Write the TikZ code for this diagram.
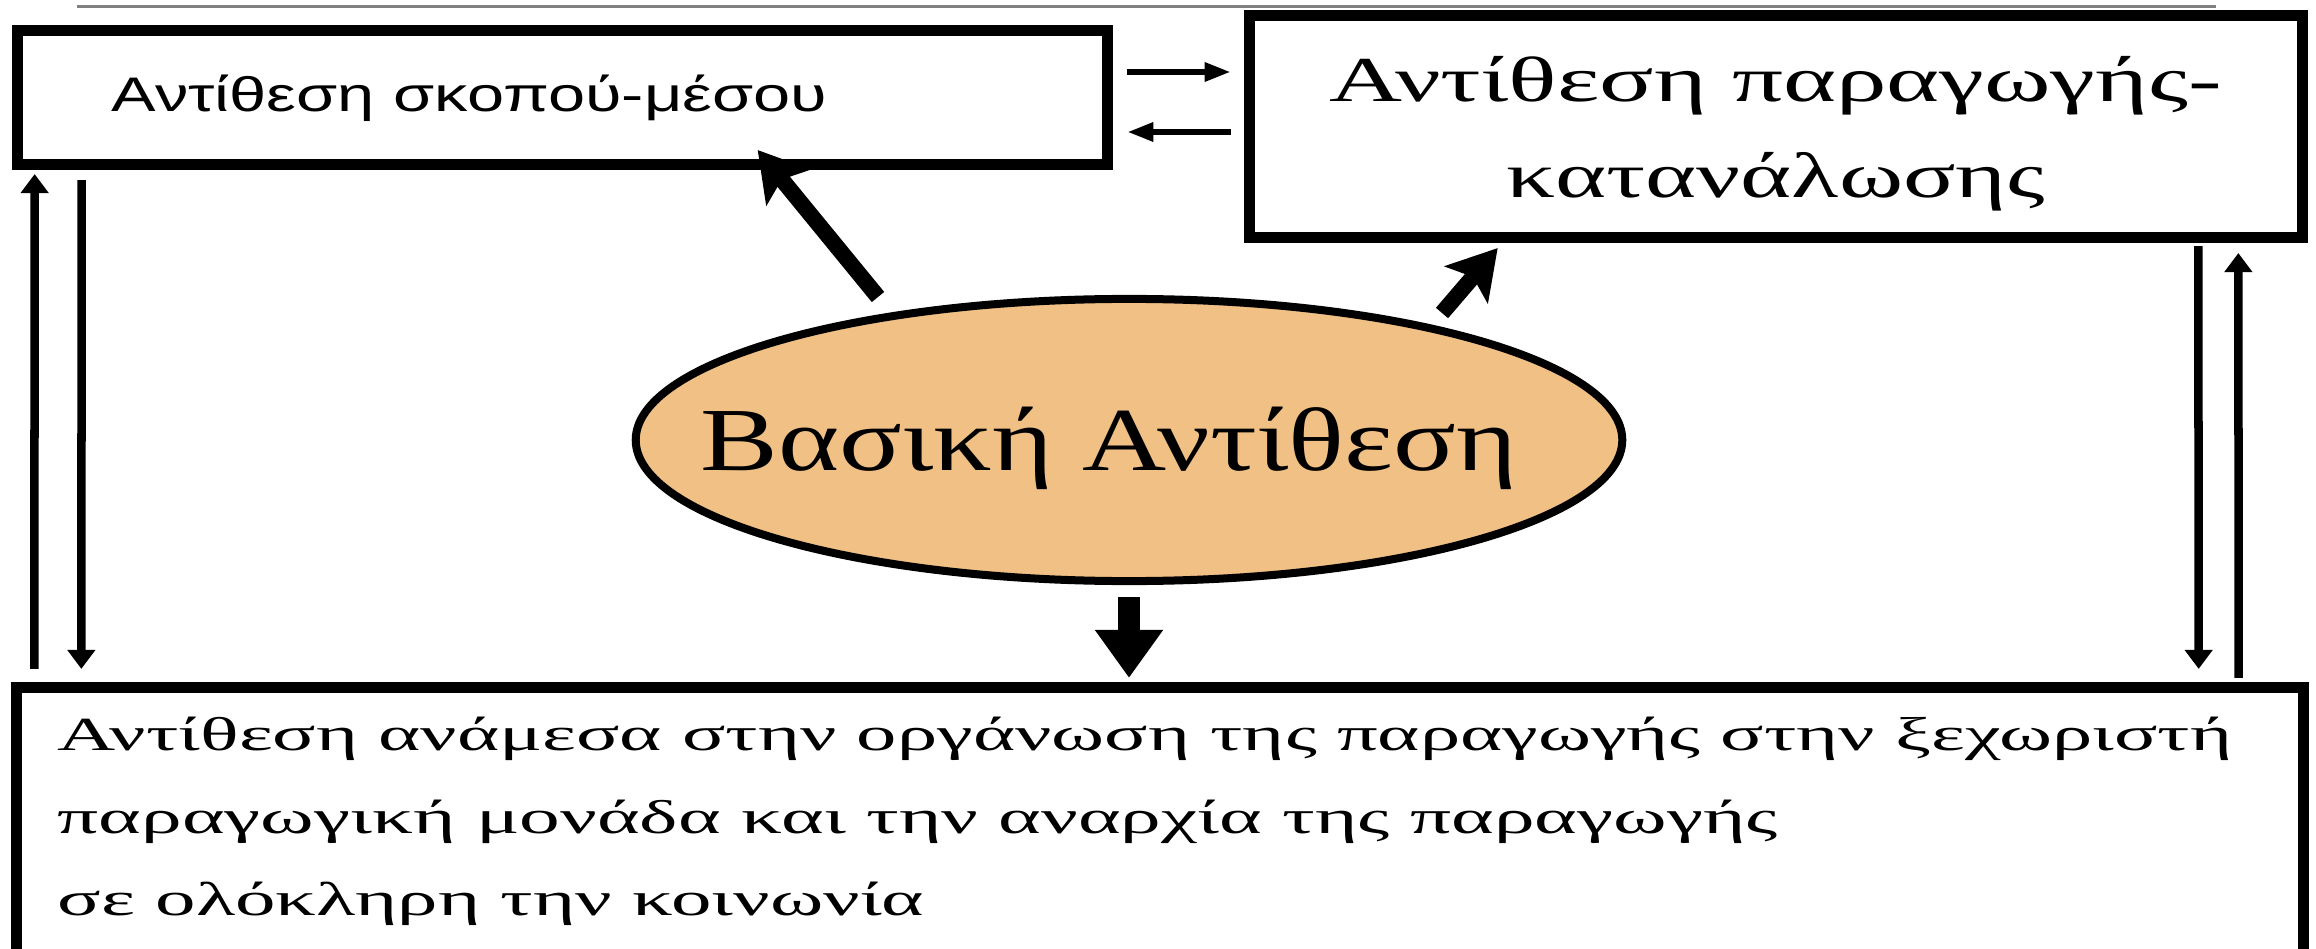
\documentclass[tikz,border=0pt]{standalone}
\usepackage{fontspec}
\setmainfont{Liberation Serif}
\newfontfamily\grsans{Liberation Sans}
\usepackage{graphicx}
\usetikzlibrary{arrows.meta,calc,shapes.geometric}
\definecolor{ellfill}{RGB}{240,192,132}
\begin{document}
\begin{tikzpicture}[x=0.01cm,y=-0.01cm,
  boxnode/.style={draw, line width=0.11cm, inner sep=0pt, fill=white},
  txt/.style={inner sep=0pt, anchor=base west},
  ctxt/.style={inner sep=0pt, anchor=base},
  hthin/.style={line width=0.06cm, -{Triangle[length=0.26cm,width=0.18cm]}},
  vthin/.style={line width=0.085cm, -{Triangle[length=0.19cm,width=0.27cm]}},
  thickarrow/.style={line width=0.16cm, -{Stealth[length=0.48cm,width=0.56cm,inset=0.1cm]}},
  downarrow/.style={line width=0.22cm, -{Triangle[length=0.48cm,width=0.65cm]}}]
\useasboundingbox (0,0) rectangle (2316,949);
\fill[white] (0,0) rectangle (2316,949);
\clip (0,0) rectangle (2316,949);

% top rule
\draw[line width=0.03cm, gray] (77,6.5) -- (2216,6.5);

% boxes
\node[boxnode, minimum width=10.9cm, minimum height=1.34cm] (A) at (562.5,97.5) {};
\node[boxnode, minimum width=10.53cm, minimum height=2.22cm] (B) at (1776,126.5) {};
\node[boxnode, minimum width=22.85cm, minimum height=3.625cm] (D) at (1160,868.75) {};
\node[ellipse, draw, line width=0.08cm, fill=ellfill, inner sep=0pt,
      minimum width=9.86cm, minimum height=2.82cm] (C) at (1129,440) {};

% texts
\node[txt] (At) at (111,112) {\resizebox{7.15cm}{\height}{\grsans\fontsize{13.8}{16}\selectfont Αντίθεση σκοπού-μέσου}};
\node[ctxt] (Bt1) at (1776,102) {\resizebox{8.92cm}{\height}{\fontsize{18.2}{22}\selectfont Αντίθεση παραγωγής-}};
\node[ctxt] (Bt2) at (1776,198) {\resizebox{5.38cm}{\height}{\fontsize{18.2}{22}\selectfont κατανάλωσης}};
\node[txt] (Ct) at (700,471) {\resizebox{8.16cm}{\height}{\fontsize{25.6}{30}\selectfont Βασική Αντίθεση}};
\node[txt] (Dt1) at (57,750) {\resizebox{21.73cm}{\height}{\fontsize{13.5}{16}\selectfont Αντίθεση ανάμεσα στην οργάνωση της παραγωγής στην ξεχωριστή}};
\node[txt] (Dt2) at (57,833) {\resizebox{17.19cm}{\height}{\fontsize{13.5}{16}\selectfont παραγωγική μονάδα και την αναρχία της παραγωγής}};
\node[txt] (Dt3) at (57,915) {\resizebox{8.66cm}{\height}{\fontsize{13.5}{16}\selectfont σε ολόκληρη την κοινωνία}};

% thin connectors between A and B
\draw[hthin] ($(A.east)+(14,-25.5)$) -- ($(B.west)+(-13,-54.5)$);
\draw[hthin] ($(B.west)+(-13,5.5)$) -- ($(A.east)+(14,34.5)$);

% left vertical pair
\draw[vthin] ($(D.north west)+(23,-13)$) -- ($(A.south west)+(23,4)$);
\draw[vthin] ($(A.south west)+(70,10)$) -- ($(D.north west)+(70,-13)$);

% right vertical pair
\draw[vthin] ($(B.south east)+(-110,3)$) -- ($(D.north east)+(-110,-13)$);
\draw[vthin] ($(D.north east)+(-70,-4)$) -- ($(B.south east)+(-70,10)$);

% thick arrows from the ellipse
\draw[thickarrow] ($(C.center)+(-251,-143)$) -- ($(A.south west)+(746,-20)$);
\draw[thickarrow] ($(C.center)+(313,-127)$) -- ($(B.south west)+(254,5)$);
\draw[downarrow] ($(C.south)+(0,12)$) -- ($(C.south |- D.north)+(0,-4)$);
\end{tikzpicture}
\end{document}
